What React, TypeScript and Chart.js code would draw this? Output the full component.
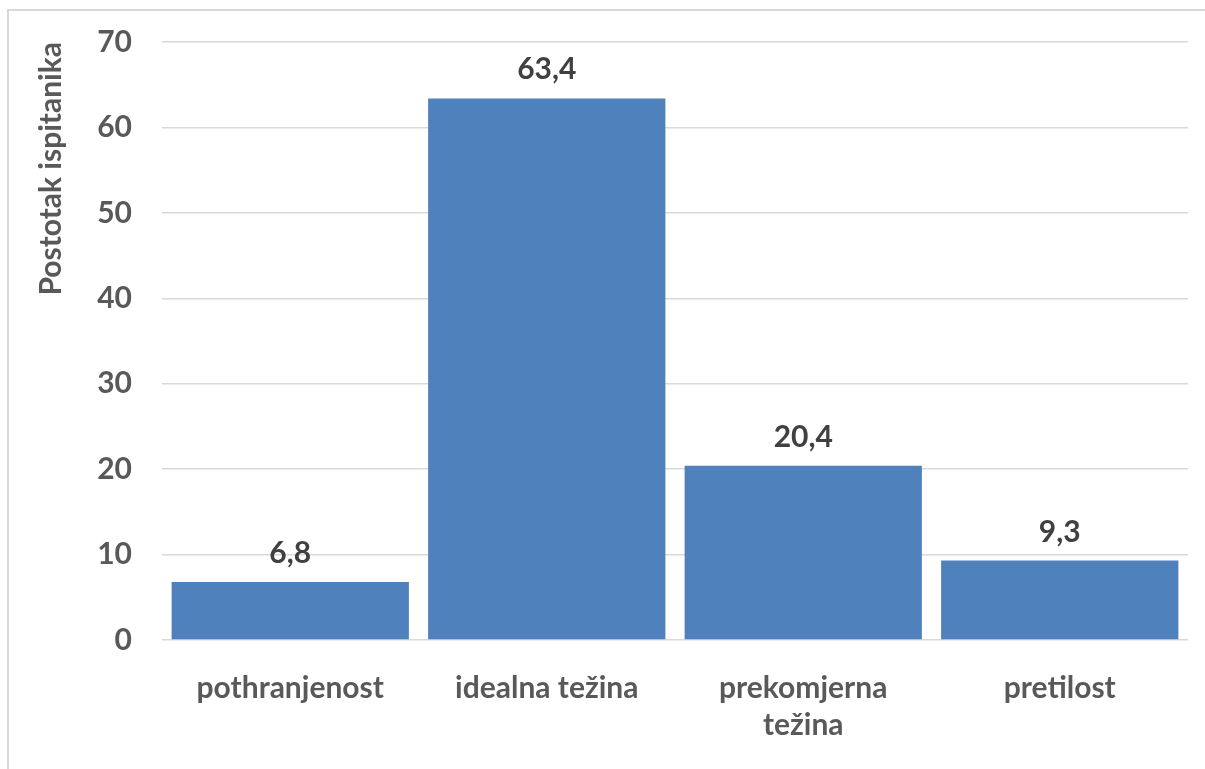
import React, { useEffect, useRef } from "react";
import { Chart, registerables } from "chart.js";

Chart.register(...registerables);

const categories: (string | string[])[] = [
  "pothranjenost",
  "idealna težina",
  ["prekomjerna", "težina"],
  "pretilost",
];
const values: number[] = [6.8, 63.4, 20.4, 9.3];
const yAxisTitle = "Postotak ispitanika";
const yMin = 0;
const yMax = 70;
const yStep = 10;

const FONT = "Lato, 'Open Sans', sans-serif";
const TEXT = "#595959";
const LABEL = "#404040";
const BAR = "#4F81BD";
const GRID = "#d9d9d9";
const FS = 30;

const valueLabels = {
  id: "valueLabels",
  afterDatasetsDraw(chart: any) {
    const ctx = chart.ctx;
    const meta = chart.getDatasetMeta(0);
    ctx.save();
    ctx.font = `bold ${FS}px ${FONT}`;
    ctx.fillStyle = LABEL;
    ctx.textAlign = "center";
    ctx.textBaseline = "alphabetic";
    meta.data.forEach((bar: any, i: number) => {
      const v = values[i];
      ctx.fillText(v.toFixed(1).replace(".", ","), bar.x, bar.y - 19);
    });
    ctx.restore();
  },
};

export default function App() {
  const ref = useRef<HTMLCanvasElement | null>(null);

  useEffect(() => {
    if (!ref.current) return;
    const chart = new Chart(ref.current, {
      type: "bar",
      data: {
        labels: categories as any,
        datasets: [
          {
            data: values,
            backgroundColor: BAR,
            borderWidth: 0,
            barPercentage: 0.925,
            categoryPercentage: 1,
          },
        ],
      },
      options: {
        animation: false,
        responsive: false,
        maintainAspectRatio: false,
        layout: { padding: { top: 42, right: 17, bottom: 0, left: 0 } },
        plugins: {
          legend: { display: false },
          tooltip: { enabled: false },
        },
        scales: {
          x: {
            grid: { display: false, drawTicks: false },
            border: { display: false },
            ticks: {
              color: TEXT,
              font: { family: FONT, size: FS, weight: "bold", lineHeight: 1.23 },
              padding: 30,
              maxRotation: 0,
              autoSkip: false,
            },
            afterFit(scale: any) {
              scale.height = 129;
            },
          },
          y: {
            min: yMin,
            max: yMax,
            grid: { color: GRID, lineWidth: 1.5, drawTicks: false },
            border: { display: false },
            ticks: {
              stepSize: yStep,
              color: TEXT,
              font: { family: FONT, size: FS, weight: "bold" },
              padding: 30,
            },
            title: {
              display: true,
              text: yAxisTitle,
              align: "end",
              color: TEXT,
              font: { family: FONT, size: FS, weight: "bold" },
              padding: { top: 33, bottom: 0 },
            },
            afterFit(scale: any) {
              scale.width = 162;
              scale.paddingTop = 0;
              scale.paddingBottom = 0;
            },
          },
        },
      },
      plugins: [valueLabels],
    });
    return () => chart.destroy();
  }, []);

  return (
    <div>
      <div
        style={{
          position: "fixed",
          left: 7,
          top: 9,
          width: 1210,
          height: 800,
          border: "2px solid #d9d9d9",
          boxSizing: "border-box",
        }}
      />
      <div style={{ position: "fixed", left: 0, top: 0, width: 1205, height: 769 }}>
        <canvas ref={ref} width={1205} height={769} />
      </div>
    </div>
  );
}
